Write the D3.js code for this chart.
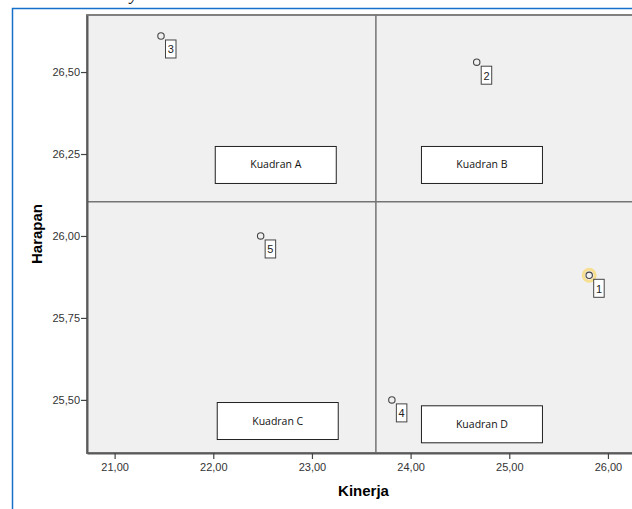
<!DOCTYPE html>
<html>
<head>
<meta charset="utf-8">
<script src="https://cdn.jsdelivr.net/npm/d3@7"></script>
<style>
  body { margin: 0; background: #fff; }
  svg { display: block; }
</style>
</head>
<body>
<div id="chart"></div>
<script>
const WIDTH = 632, HEIGHT = 509;
const MARGIN = {left: 87, top: 15, right: -8, bottom: 56};

// data: case number, Kinerja (x), Harapan (y)
const ids = ["1", "2", "3", "4", "5"];
const kinerja = [25.81, 24.67, 21.47, 23.81, 22.48];
const harapan = [25.88, 26.53, 26.61, 25.50, 26.00];
const highlighted = ["1"];

const xTicks = [21, 22, 23, 24, 25, 26];
const yTicks = [25.50, 25.75, 26.00, 26.25, 26.50];

// quadrant annotation boxes (top-left corner, data units)
const quadLabels = ["Kuadran A", "Kuadran B", "Kuadran C", "Kuadran D"];
const quadX = [22.02, 24.11, 22.04, 24.11];
const quadY = [26.273, 26.273, 25.492, 25.482];

const points = ids.map((id, i) => ({id, x: kinerja[i], y: harapan[i]}));
const quads = quadLabels.map((label, i) => ({label, x: quadX[i], y: quadY[i]}));

const x = d3.scaleLinear().domain([20.72, 26.325]).range([MARGIN.left, WIDTH - MARGIN.right]);
const y = d3.scaleLinear().domain([25.338, 26.674]).range([HEIGHT - MARGIN.bottom, MARGIN.top]);
const fmt = d => d3.format(".2f")(d).replace(".", ",");

const svg = d3.select("#chart").append("svg")
    .attr("width", WIDTH)
    .attr("height", HEIGHT);

// text cut off at the top of the page
svg.append("text")
    .attr("x", 130)
    .attr("y", 0)
    .style("font-family", "Liberation Serif")
    .style("font-style", "italic")
    .style("font-size", "17px")
    .text("y");

// blue frame
svg.append("rect")
    .attr("x", 12.5).attr("y", 8.5)
    .attr("width", WIDTH + 10).attr("height", HEIGHT + 10)
    .attr("fill", "none")
    .attr("stroke", "#1570c9")
    .attr("stroke-width", 1.5);

// plot background
svg.append("rect")
    .attr("x", MARGIN.left).attr("y", MARGIN.top)
    .attr("width", WIDTH - MARGIN.right - MARGIN.left)
    .attr("height", HEIGHT - MARGIN.bottom - MARGIN.top)
    .attr("fill", "#f0f0f0")
    .attr("stroke", "#808080")
    .attr("stroke-width", 2);

// reference lines at means
const meanX = d3.mean(kinerja), meanY = d3.mean(harapan);
svg.append("line")
    .attr("x1", x(meanX)).attr("x2", x(meanX))
    .attr("y1", MARGIN.top).attr("y2", HEIGHT - MARGIN.bottom)
    .attr("stroke", "#747474").attr("stroke-width", 1.5);
svg.append("line")
    .attr("x1", MARGIN.left).attr("x2", WIDTH - MARGIN.right)
    .attr("y1", y(meanY)).attr("y2", y(meanY))
    .attr("stroke", "#747474").attr("stroke-width", 1.5);

// Axes
const xAxis = svg.append("g")
    .attr("transform", `translate(0,${HEIGHT - MARGIN.bottom})`)
    .call(d3.axisBottom(x).tickValues(xTicks).tickFormat(fmt).tickSize(6).tickSizeOuter(0).tickPadding(4));
const yAxis = svg.append("g")
    .attr("transform", `translate(${MARGIN.left},0)`)
    .call(d3.axisLeft(y).tickValues(yTicks).tickFormat(fmt).tickSize(6).tickSizeOuter(0).tickPadding(1));

[xAxis, yAxis].forEach(g => {
    g.select(".domain").attr("stroke", "#5a5a5a").attr("stroke-width", 2);
    g.selectAll(".tick line").attr("stroke", "#444").attr("stroke-width", 1.2);
    g.selectAll(".tick text")
        .style("font-family", "Arial, Liberation Sans, sans-serif")
        .style("font-size", "11px")
        .attr("fill", "#333");
});

// axis titles
svg.append("text")
    .attr("x", (MARGIN.left + WIDTH - MARGIN.right) / 2)
    .attr("y", 496)
    .attr("text-anchor", "middle")
    .style("font-family", "Arial, Liberation Sans, sans-serif")
    .style("font-size", "15px")
    .style("font-weight", "bold")
    .text("Kinerja");
svg.append("text")
    .attr("transform", `translate(42,${(MARGIN.top + HEIGHT - MARGIN.bottom) / 2}) rotate(-90)`)
    .attr("text-anchor", "middle")
    .style("font-family", "Arial, Liberation Sans, sans-serif")
    .style("font-size", "15px")
    .style("font-weight", "bold")
    .text("Harapan");

// quadrant boxes
const qg = svg.selectAll("g.quad")
    .data(quads)
    .join("g")
    .attr("class", "quad")
    .attr("transform", d => `translate(${x(d.x)},${y(d.y)})`);
qg.append("rect")
    .attr("width", 121).attr("height", 37)
    .attr("fill", "#fff")
    .attr("stroke", "#222")
    .attr("stroke-width", 1);
qg.append("text")
    .attr("x", 60.5).attr("y", 22)
    .attr("text-anchor", "middle")
    .style("font-family", "Open Sans, Noto Sans, sans-serif")
    .style("font-size", "10.5px")
    .attr("fill", "#111")
    .text(d => d.label);

// highlight ring
svg.selectAll("circle.hl")
    .data(points.filter(d => highlighted.includes(d.id)))
    .join("circle")
    .attr("class", "hl")
    .attr("cx", d => x(d.x))
    .attr("cy", d => y(d.y))
    .attr("r", 6)
    .attr("fill", "none")
    .attr("stroke", "#f7df92")
    .attr("stroke-width", 3);

// points
svg.selectAll("circle.pt")
    .data(points)
    .join("circle")
    .attr("class", "pt")
    .attr("cx", d => x(d.x))
    .attr("cy", d => y(d.y))
    .attr("r", 3.2)
    .attr("fill", "none")
    .attr("stroke", "#444")
    .attr("stroke-width", 1.1);

// point labels
const lg = svg.selectAll("g.plabel")
    .data(points)
    .join("g")
    .attr("class", "plabel")
    .attr("transform", d => `translate(${x(d.x) + 4.5},${y(d.y) + 4})`);
lg.append("rect")
    .attr("width", 10.5).attr("height", 18)
    .attr("fill", "#fff")
    .attr("stroke", "#444")
    .attr("stroke-width", 1);
lg.append("text")
    .attr("x", 5.25).attr("y", 13.5)
    .attr("text-anchor", "middle")
    .style("font-family", "Arial, Liberation Sans, sans-serif")
    .style("font-size", "11px")
    .attr("fill", "#222")
    .text(d => d.id);
</script>
</body>
</html>
